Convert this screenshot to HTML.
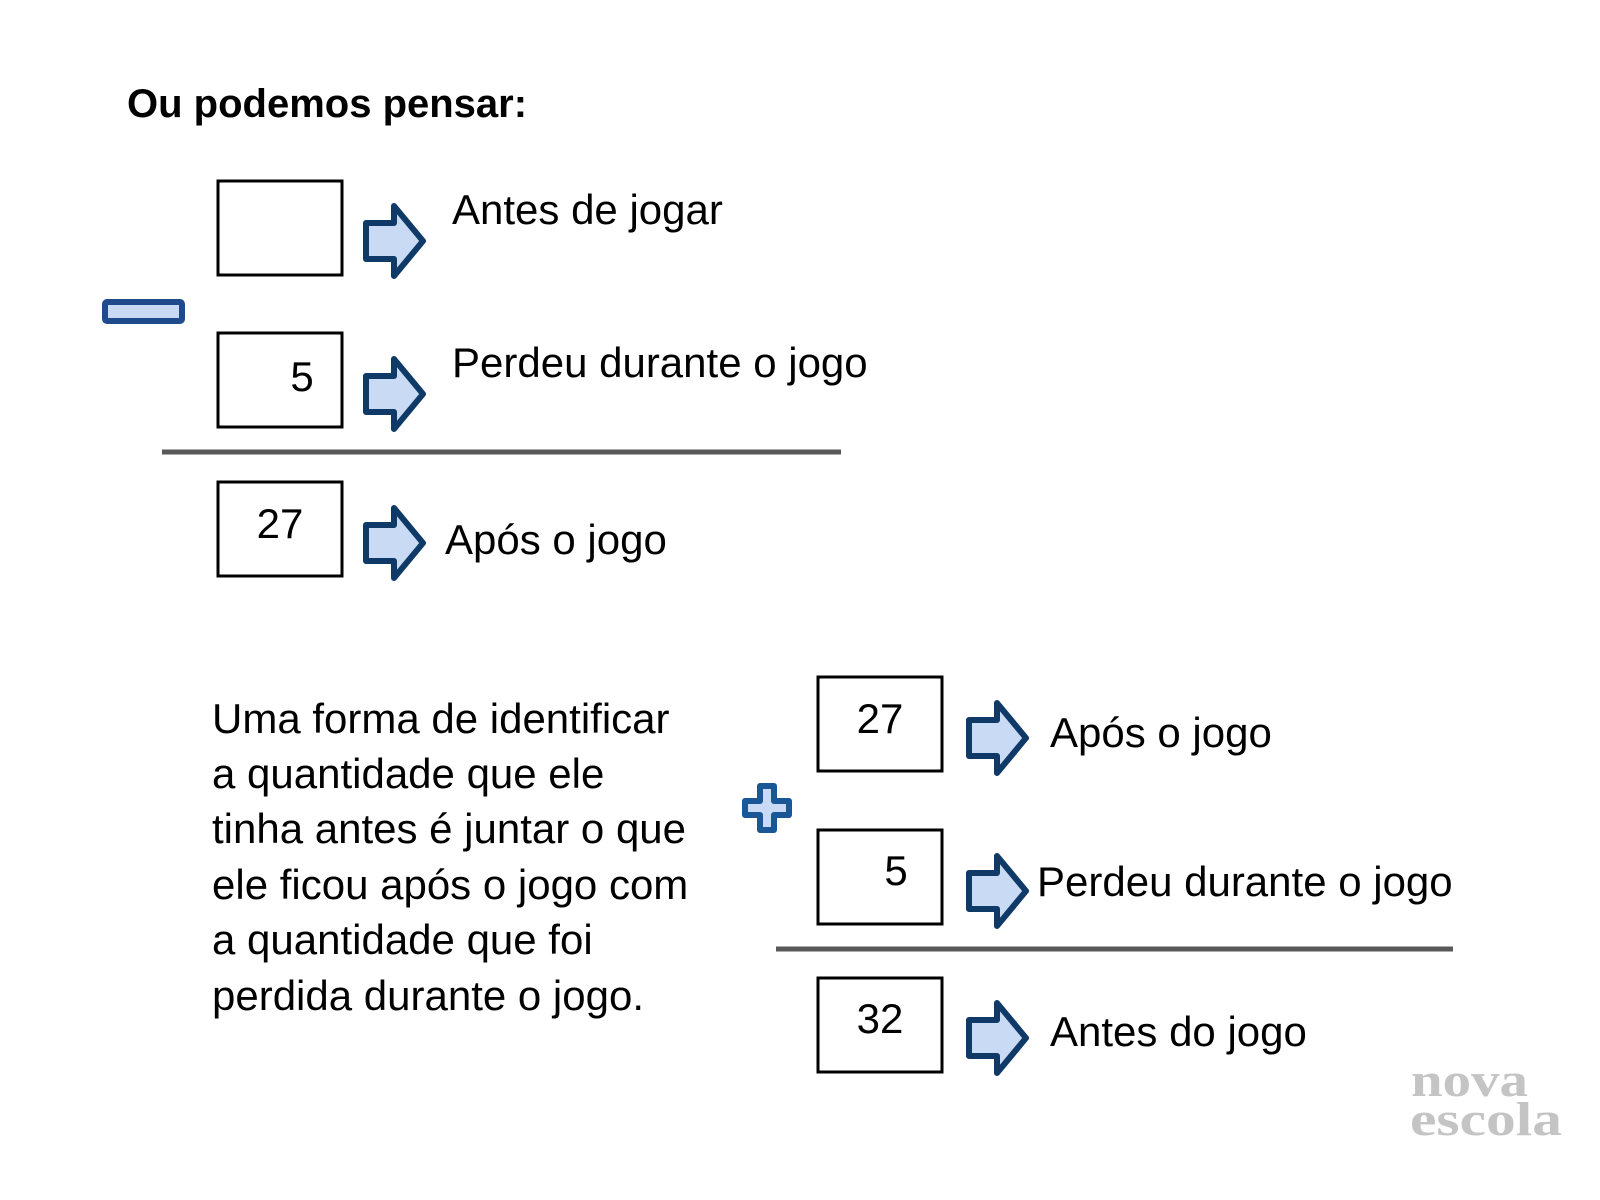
<!DOCTYPE html>
<html><head><meta charset="utf-8"><style>
html,body{margin:0;padding:0;background:#fff;}
svg{display:block;}
text{font-family:"Liberation Sans",sans-serif;fill:#000;}
</style></head><body>
<svg width="1600" height="1200" viewBox="0 0 1600 1200">
<defs>
<path id="arr" d="M0,-18 L28,-18 L28,-35 L57,0 L28,35 L28,18 L0,18 Z" fill="#c9daf5" stroke="#0f3a68" stroke-width="6" stroke-linejoin="round"/>
</defs>
<text x="127" y="117" font-size="40" font-weight="bold">Ou podemos pensar:</text>
<g fill="#fff" stroke="#000" stroke-width="3">
<rect x="218" y="181" width="124" height="94"/>
<rect x="218" y="333" width="124" height="94"/>
<rect x="218" y="482" width="124" height="94"/>
<rect x="818" y="677" width="124" height="94"/>
<rect x="818" y="830" width="124" height="94"/>
<rect x="818" y="978" width="124" height="94"/>
</g>
<rect x="105" y="302" width="77" height="19" rx="2" fill="#c9daf5" stroke="#1f4a8c" stroke-width="6"/>
<path d="M760,786 h14 v15 h15 v14 h-15 v15 h-14 v-15 h-15 v-14 h15 z" fill="#c9daf5" stroke="#1a5797" stroke-width="6" stroke-linejoin="round"/>
<line x1="162" y1="452" x2="841" y2="452" stroke="#595959" stroke-width="5"/>
<line x1="776" y1="949" x2="1453" y2="949" stroke="#595959" stroke-width="5"/>
<use href="#arr" x="366" y="241"/>
<use href="#arr" x="366" y="394"/>
<use href="#arr" x="366" y="543"/>
<use href="#arr" x="969" y="738"/>
<use href="#arr" x="969" y="891"/>
<use href="#arr" x="969" y="1038"/>
<g font-size="42">
<text x="302" y="391" text-anchor="middle">5</text>
<text x="280" y="538" text-anchor="middle">27</text>
<text x="880" y="733" text-anchor="middle">27</text>
<text x="896" y="885" text-anchor="middle">5</text>
<text x="880" y="1033" text-anchor="middle">32</text>
<text x="452" y="224">Antes de jogar</text>
<text x="452" y="377">Perdeu durante o jogo</text>
<text x="445" y="554">Após o jogo</text>
<text x="1050" y="747">Após o jogo</text>
<text x="1037" y="896">Perdeu durante o jogo</text>
<text x="1050" y="1046">Antes do jogo</text>
<text x="212" y="733">Uma forma de identificar</text>
<text x="212" y="788">a quantidade que ele</text>
<text x="212" y="843">tinha antes é juntar o que</text>
<text x="212" y="899">ele ficou após o jogo com</text>
<text x="212" y="954">a quantidade que foi</text>
<text x="212" y="1010">perdida durante o jogo.</text>
</g>
<text x="1411" y="1096" font-size="48" font-weight="bold" textLength="117" lengthAdjust="spacingAndGlyphs" style="font-family:'Liberation Serif',serif;fill:#c4c4c4">nova</text>
<text x="1410" y="1135" font-size="48" font-weight="bold" textLength="152" lengthAdjust="spacingAndGlyphs" style="font-family:'Liberation Serif',serif;fill:#c4c4c4">escola</text>
</svg>
</body></html>
